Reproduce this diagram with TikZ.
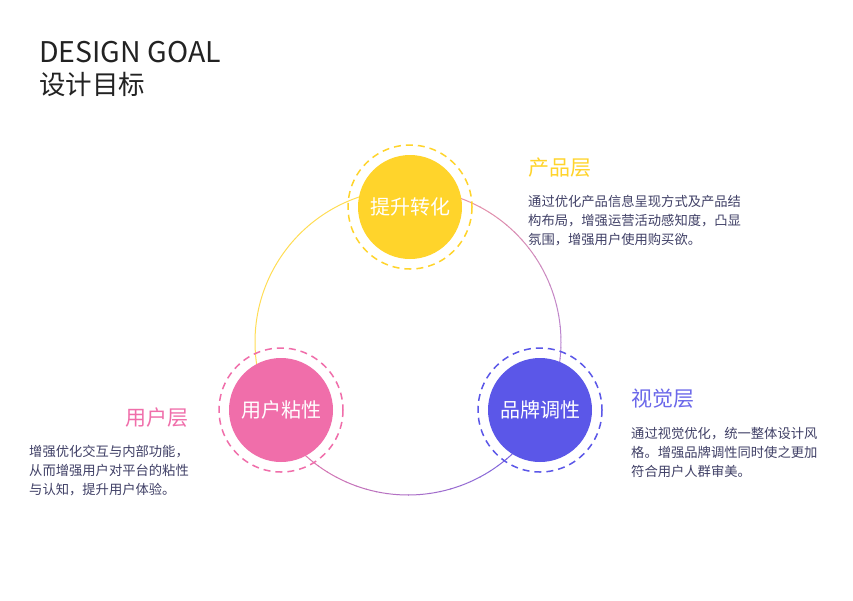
\documentclass[tikz,border=0pt]{standalone}
\usepackage{fontspec}
\setmainfont{Noto Sans CJK SC}
\definecolor{goalyellow}{HTML}{FFD42B}
\definecolor{goalpink}{HTML}{F06EAA}
\definecolor{goalblue}{HTML}{5B57E8}
\definecolor{ringsalmon}{HTML}{F7959A}
\definecolor{ringlilac}{HTML}{A47EE2}
\definecolor{ringrose}{HTML}{F07CA6}
\definecolor{ringviolet}{HTML}{6A63E8}
\definecolor{bodytext}{HTML}{404066}
\definecolor{titletext}{HTML}{222222}
\tikzset{
  goal/.style={circle, fill=#1, minimum size=104pt, inner sep=0pt, text=white,
    font=\fontsize{20}{22}\selectfont},
  ring/.style={draw=#1, line width=1.5pt, dash pattern=on 7pt off 5pt},
  layer/.style={inner sep=0pt, text=#1, font=\fontsize{21}{24}\selectfont},
  desc/.style={inner sep=0pt, align=left, text=bodytext,
    font=\fontsize{13.3}{19}\selectfont},
}
\begin{document}
\begin{tikzpicture}[x=1pt, y=-1pt]
  \fill[white] (0,0) rectangle (853,600);
  \useasboundingbox (0,0) rectangle (853,600);

  % title
  \node[anchor=base west, inner sep=0pt, text=titletext, font=\fontsize{28.5}{30}\selectfont] (title) at (39,62) {DESIGN GOAL};
  \node[anchor=base west, inner sep=0pt, text=titletext, font=\fontsize{26.5}{30}\selectfont] (subtitle) at (39,94) {设计目标};

  % big ring
  \coordinate (hub) at (408,342);
  \draw[goalyellow!80, line width=1pt] (hub) ++(270:153) arc[start angle=270, end angle=150, radius=153];
  \foreach \i in {0,...,29} {
    \pgfmathsetmacro\s{-90+\i*4}
    \pgfmathsetmacro\e{-90+(\i+1)*4+0.3}
    \pgfmathtruncatemacro\p{100*\i/29}
    \draw[color={ringlilac!\p!ringsalmon}, line width=1pt] (hub) ++(\s:153) arc[start angle=\s, end angle=\e, radius=153];
  }
  \foreach \i in {0,...,29} {
    \pgfmathsetmacro\s{150-\i*4}
    \pgfmathsetmacro\e{150-(\i+1)*4-0.3}
    \pgfmathtruncatemacro\p{100*\i/29}
    \draw[color={ringviolet!\p!ringrose}, line width=1pt] (hub) ++(\s:153) arc[start angle=\s, end angle=\e, radius=153];
  }

  % goal circles
  \node[goal=goalyellow] (convert) at (410,207) {提升转化};
  \node[goal=goalpink] (sticky) at (281,410) {用户粘性};
  \node[goal=goalblue] (brand) at (540,410) {品牌调性};
  \draw[ring=goalyellow] (convert) circle (62);
  \draw[ring=goalpink] (sticky) circle (62);
  \draw[ring=goalblue] (brand) circle (62);

  % product layer
  \node[layer=goalyellow, anchor=base west] (product) at (528,175) {产品层};
  \node[desc, anchor=base west] (productdesc) at (528,244) {通过优化产品信息呈现方式及产品结\\构布局，增强运营活动感知度，凸显\\氛围，增强用户使用购买欲。};

  % user layer
  \node[layer=goalpink, anchor=base east] (user) at (189,425) {用户层};
  \node[desc, anchor=base west] (userdesc) at (29,494) {增强优化交互与内部功能，\\从而增强用户对平台的粘性\\与认知，提升用户体验。};

  % visual layer
  \node[layer=goalblue!90, anchor=base west] (visual) at (631,406) {视觉层};
  \node[desc, anchor=base west] (visualdesc) at (631,476) {通过视觉优化，统一整体设计风\\格。增强品牌调性同时使之更加\\符合用户人群审美。};
\end{tikzpicture}
\end{document}
